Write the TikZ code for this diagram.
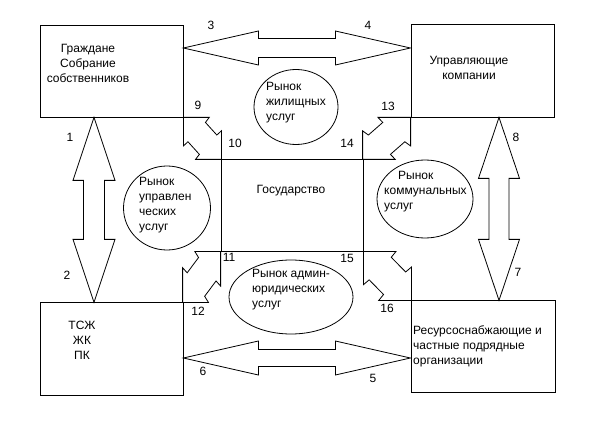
\documentclass[tikz,border=0pt]{standalone}
\usepackage{fontspec}
\setmainfont{Liberation Sans}
\usetikzlibrary{shapes.geometric}

\tikzset{
  box/.style={draw,line width=0.8bp,minimum width=143bp,minimum height=92bp,inner sep=0pt},
  market/.style={draw,ellipse,line width=0.8bp,inner sep=0pt},
  txt/.style={font=\fontsize{12bp}{15bp}\selectfont,inner sep=0pt},
  num/.style={font=\fontsize{12bp}{13bp}\selectfont,inner sep=0pt},
  arrowline/.style={draw,line width=0.8bp,line join=miter},
  % block double arrow: length/head length/head half width/shaft half width
  pics/dblarrow/.style args={#1/#2/#3/#4}{code={
    \draw[arrowline] (0,0) -- (#2,#3) -- (#2,#4) -- (#1-#2,#4) -- (#1-#2,#3) -- (#1,0)
      -- (#1-#2,-#3) -- (#1-#2,-#4) -- (#2,-#4) -- (#2,-#3) -- cycle;
  }},
  % broken double arrow between two corners, unit square
  pics/zigarrow/.style={code={
    \draw[arrowline] (0,0) -- (0.68,0) -- (0.58,0.12) -- (0.88,0.42) -- (1,0.32) -- (1,1)
      -- (0.32,1) -- (0.42,0.88) -- (0.12,0.58) -- (0,0.68) -- cycle;
  }}
}

\begin{document}
\begin{tikzpicture}[x=1bp,y=-1bp]
  \useasboundingbox (0,0) rectangle (595,434);

  % participants
  \node[box] (gr) at (111.5,71) {};
  \node[box,minimum height=93bp] (um) at (482.5,70.5) {};
  \node[box,minimum height=93bp] (ts) at (111.5,348.5) {};
  \node[box,minimum width=144bp] (res) at (483,346) {};
  \node[box,minimum width=142bp] (st) at (292,205) {};

  \node[txt,align=center] (grtext) at (88,63) {Граждане\\Собрание\\собственников};
  \node[txt,align=center] (umtext) at (469,68) {Управляющие\\компании};
  \node[txt,align=center] (tstext) at (82,340) {ТСЖ\\ЖК\\ПК};
  \node[txt,align=left,anchor=west] (restext) at (413,346) {Ресурсоснабжающие и\\частные подрядные\\организации};
  \node[txt] (sttext) at (291,191) {Государство};

  % markets
  \node[market,minimum width=84bp,minimum height=75bp] (mh) at (296,107) {};
  \node[market,minimum width=87bp,minimum height=84bp] (mu) at (167,208) {};
  \node[market,minimum width=96bp,minimum height=78bp] (mk) at (425,199) {};
  \node[market,minimum width=124bp,minimum height=74bp] (ma) at (291,297) {};

  \node[txt,align=left,anchor=west] (mhtext) at (266,103) {Рынок\\жилищных\\услуг};
  \node[txt,align=left,anchor=west] (mutext) at (139,205.5) {Рынок\\управлен\\ческих\\услуг};
  \node[txt,align=left,anchor=west] (mktext) at (384,192) {\hspace*{14bp}Рынок\\коммунальных\\услуг};
  \node[txt,align=left,anchor=west] (matext) at (252,290) {Рынок админ-\\юридических\\услуг};

  % block arrows
  \path (gr.east |- 0,48) pic {dblarrow=227/75/17/9.5};
  \path (ts.east |- 0,358) pic {dblarrow=227/75/17/8.5};
  \path (gr.south -| 94,0) pic[rotate=-90] {dblarrow=185/63/21/10.5};
  \path (um.south -| 499,0) pic[rotate=-90] {dblarrow=183/61/20.5/10};

  % broken arrows to the state
  \path (gr.south east) pic[xscale=38,yscale=42] {zigarrow};
  \path (um.south west) pic[xscale=-48,yscale=42] {zigarrow};
  \path (st.south west) pic[xscale=-38,yscale=51] {zigarrow};
  \path (st.south east) pic[xscale=48,yscale=49] {zigarrow};

  % numbers
  \node[num] (n1) at (70,137) {1};
  \node[num] (n2) at (67,275) {2};
  \node[num] (n3) at (211,25) {3};
  \node[num] (n4) at (368,25) {4};
  \node[num] (n5) at (373,378) {5};
  \node[num] (n6) at (203,371) {6};
  \node[num] (n7) at (518,272) {7};
  \node[num] (n8) at (516,137) {8};
  \node[num] (n9) at (198,105) {9};
  \node[num] (n10) at (235,143) {10};
  \node[num] (n11) at (229,257) {11};
  \node[num] (n12) at (198,311) {12};
  \node[num] (n13) at (388,106) {13};
  \node[num] (n14) at (347,143) {14};
  \node[num] (n15) at (347,258) {15};
  \node[num] (n16) at (387,308) {16};
\end{tikzpicture}
\end{document}
